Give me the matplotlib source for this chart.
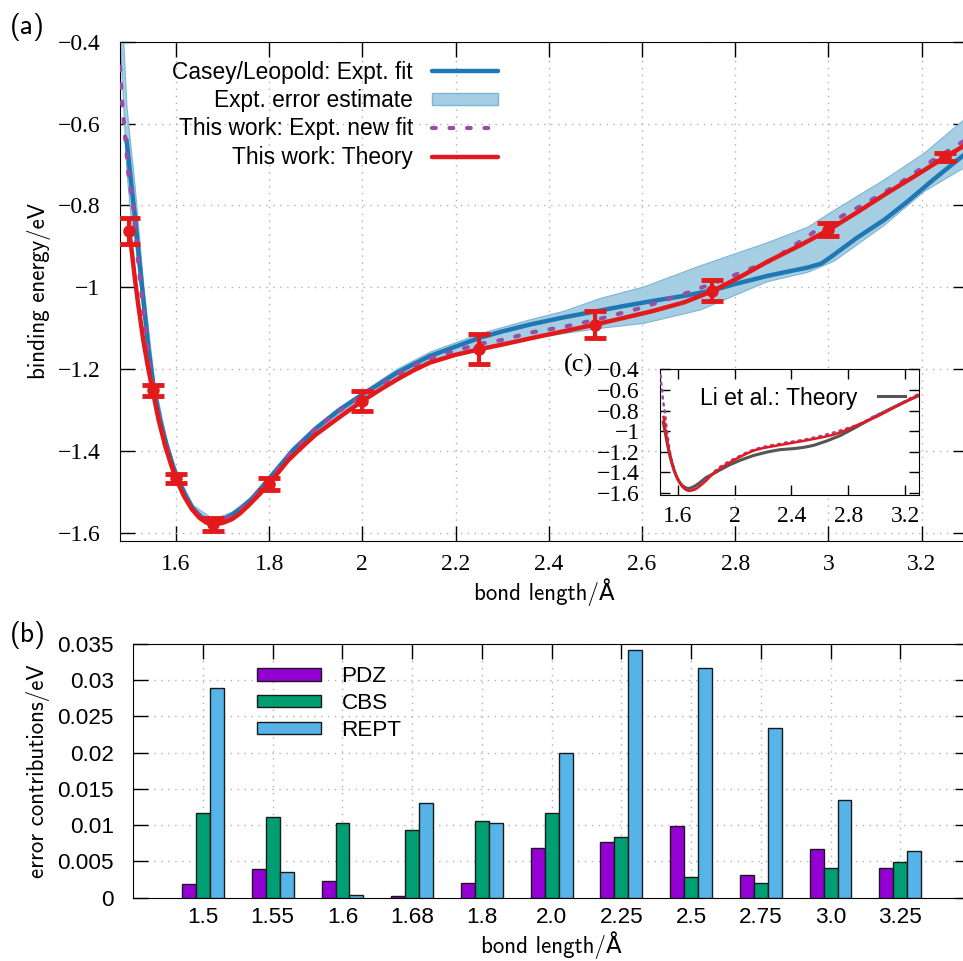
import numpy as np
import matplotlib
matplotlib.use("Agg")
import matplotlib.pyplot as plt
from matplotlib.lines import Line2D
from matplotlib.patches import Patch
from matplotlib.ticker import MultipleLocator, FuncFormatter

plt.rcParams['font.family'] = ['Liberation Sans', 'DejaVu Sans']

### data, panel (a)
r_pts = [1.5, 1.55, 1.6, 1.68, 1.8, 2.0, 2.25, 2.5, 2.75, 3.0, 3.25]
e_pts = [-0.863, -1.252, -1.467, -1.579, -1.48, -1.278, -1.15, -1.091, -1.008, -0.859, -0.682]
err_pts = [0.032, 0.013, 0.011, 0.016, 0.015, 0.024, 0.037, 0.034, 0.025, 0.016, 0.009]

theory_x = [1.50, 1.506, 1.512, 1.52, 1.53, 1.54, 1.55, 1.563, 1.577, 1.59, 1.60, 1.617, 1.634, 1.65,
            1.665, 1.68, 1.70, 1.72, 1.737, 1.755, 1.78, 1.80, 1.84, 1.87, 1.90, 1.93, 1.955, 2.0,
            2.04, 2.075, 2.11, 2.145, 2.2, 2.25, 2.30, 2.36, 2.43, 2.5, 2.56, 2.62, 2.69, 2.75,
            2.81, 2.87, 2.94, 3.0, 3.06, 3.12, 3.19, 3.25, 3.30]
theory_y = [-0.863, -0.92, -0.98, -1.05, -1.13, -1.195, -1.252, -1.325, -1.388, -1.435, -1.467,
            -1.51, -1.542, -1.563, -1.575, -1.579, -1.576, -1.567, -1.553, -1.534, -1.505, -1.48,
            -1.424, -1.391, -1.36, -1.335, -1.314, -1.278, -1.249, -1.225, -1.203, -1.184, -1.165,
            -1.152, -1.14, -1.125, -1.108, -1.091, -1.075, -1.059, -1.037, -1.01, -0.975, -0.937,
            -0.897, -0.86, -0.818, -0.774, -0.725, -0.682, -0.648]

casey_x = [1.494, 1.503, 1.512, 1.521, 1.53, 1.541, 1.553, 1.566, 1.58, 1.593, 1.603, 1.62, 1.636,
           1.655, 1.68, 1.70, 1.72, 1.74, 1.76, 1.78, 1.80, 1.85, 1.90, 1.95, 2.0, 2.037, 2.074,
           2.11, 2.145, 2.2, 2.253, 2.30, 2.36, 2.43, 2.50, 2.56, 2.62, 2.69, 2.75, 2.80, 2.87,
           2.92, 2.955, 2.985, 3.01, 3.06, 3.12, 3.17, 3.225, 3.30]
casey_y = [-0.64, -0.735, -0.827, -0.93, -1.03, -1.15, -1.25, -1.325, -1.385, -1.435, -1.465,
           -1.508, -1.54, -1.562, -1.573, -1.568, -1.556, -1.54, -1.52, -1.495, -1.468, -1.40,
           -1.345, -1.30, -1.262, -1.236, -1.209, -1.188, -1.168, -1.145, -1.123, -1.108, -1.091,
           -1.074, -1.059, -1.046, -1.034, -1.021, -1.008, -0.992, -0.972, -0.96, -0.952, -0.942,
           -0.922, -0.88, -0.835, -0.79, -0.737, -0.668]

band_x = [1.48, 1.487, 1.494, 1.503, 1.512, 1.521, 1.53, 1.553, 1.58, 1.603, 1.636, 1.68, 1.72,
          1.76, 1.80, 1.85, 1.90, 1.95, 2.0, 2.074, 2.145, 2.253, 2.36, 2.43, 2.51, 2.603, 2.725,
          2.868, 2.955, 3.011, 3.118, 3.204, 3.30]
band_lo = [-0.40, -0.56, -0.72, -0.83, -0.89, -0.98, -1.065, -1.27, -1.395, -1.472, -1.548,
           -1.582, -1.565, -1.529, -1.475, -1.407, -1.352, -1.307, -1.27, -1.217, -1.178, -1.145,
           -1.125, -1.112, -1.099, -1.087, -1.054, -0.985, -0.962, -0.935, -0.848, -0.765, -0.70]
band_hi = [-0.30, -0.40, -0.56, -0.66, -0.76, -0.88, -0.995, -1.23, -1.375, -1.458, -1.532,
           -1.566, -1.548, -1.512, -1.458, -1.39, -1.338, -1.293, -1.255, -1.199, -1.157, -1.112,
           -1.078, -1.058, -1.026, -0.998, -0.946, -0.89, -0.852, -0.811, -0.737, -0.672, -0.58]

newfit_x = [1.48, 1.484, 1.491, 1.498, 1.509, 1.52, 1.53, 1.54, 1.55, 1.565, 1.58, 1.59, 1.60,
            1.617, 1.634, 1.655, 1.68, 1.70, 1.72, 1.74, 1.76, 1.78, 1.80, 1.85, 1.90, 1.95, 2.0,
            2.037, 2.074, 2.11, 2.145, 2.2, 2.253, 2.303, 2.36, 2.431, 2.503, 2.596, 2.696, 2.775,
            2.882, 2.982, 3.075, 3.154, 3.225, 3.30]
newfit_y = [-0.461, -0.542, -0.632, -0.721, -0.81, -0.95, -1.06, -1.16, -1.245, -1.325, -1.385,
            -1.43, -1.462, -1.508, -1.54, -1.562, -1.574, -1.569, -1.558, -1.542, -1.523, -1.498,
            -1.47, -1.40, -1.345, -1.302, -1.266, -1.24, -1.214, -1.193, -1.174, -1.155, -1.138,
            -1.128, -1.111, -1.097, -1.079, -1.051, -1.014, -0.981, -0.932, -0.855, -0.798,
            -0.745, -0.689, -0.636]

# panel (c): Li et al.
li_x = [1.498, 1.51, 1.522, 1.534, 1.546, 1.56, 1.575, 1.59, 1.604, 1.62, 1.64, 1.66, 1.675, 1.69,
        1.71, 1.73, 1.745, 1.77, 1.80, 1.851, 1.90, 1.96, 2.039, 2.13, 2.228, 2.32, 2.415, 2.49,
        2.557, 2.65, 2.745, 2.86, 2.98, 3.08, 3.168, 3.24, 3.297]
li_y = [-0.913, -1.0, -1.09, -1.175, -1.251, -1.32, -1.385, -1.438, -1.476, -1.51, -1.537,
        -1.552, -1.557, -1.553, -1.54, -1.525, -1.511, -1.483, -1.45, -1.412, -1.375, -1.33,
        -1.283, -1.238, -1.203, -1.18, -1.17, -1.157, -1.138, -1.095, -1.042, -0.958, -0.865,
        -0.795, -0.735, -0.69, -0.655]

### data, panel (b)
bond_labels = ['1.5', '1.55', '1.6', '1.68', '1.8', '2.0', '2.25', '2.5', '2.75', '3.0', '3.25']
pdz = [0.00185, 0.0039, 0.00227, 0.0003, 0.00207, 0.0069, 0.00765, 0.00986, 0.00318, 0.00669, 0.00406]
cbs = [0.01166, 0.0111, 0.01028, 0.00935, 0.01059, 0.01166, 0.00843, 0.00286, 0.00207, 0.00406, 0.00493]
rept = [0.02887, 0.00355, 0.00033, 0.01312, 0.01036, 0.01998, 0.03421, 0.03168, 0.0234, 0.01354, 0.00649]

c_blue = '#1f78b4'
c_band = '#a6cee3'
c_purple = '#984ea3'
c_red = '#e31a1c'
c_gray = '#555555'
grid_kw = dict(color='#b0b0b0', linestyle=(0, (1, 4)), linewidth=1.0)
lab_font = ['cmss10', 'DejaVu Sans']

def minus_fmt(v, pos):
    return ('%g' % round(v, 6)).replace('-', '\u2212')

W, H = 963, 961
fig = plt.figure(figsize=(W/100, H/100), dpi=100, facecolor='white')

### panel (a)
ax = fig.add_axes([120/W, 1-541/H, 848.3/W, 499.3/H])
ax.fill_between(band_x, band_lo, band_hi, facecolor=c_band, edgecolor='#7fb3d5', linewidth=0.8, zorder=2)
ax.plot(casey_x, casey_y, color=c_blue, lw=3.2, zorder=3, solid_capstyle='round')
ax.plot(newfit_x, newfit_y, color=c_purple, lw=3.0, linestyle=(0, (0.9, 3.3)),
        dash_capstyle='round', zorder=4)
ax.plot(theory_x, theory_y, color=c_red, lw=3.2, zorder=5)
ax.errorbar(r_pts, e_pts, yerr=err_pts, fmt='o', color=c_red, ms=8, elinewidth=3,
            capsize=8, capthick=3.5, zorder=6)

ax.set_xlim(1.48, 3.3)
ax.set_ylim(-1.62, -0.4)
ax.xaxis.set_major_locator(MultipleLocator(0.2))
ax.yaxis.set_major_locator(MultipleLocator(0.2))
ax.xaxis.set_major_formatter(FuncFormatter(minus_fmt))
ax.yaxis.set_major_formatter(FuncFormatter(minus_fmt))
ax.tick_params(direction='in', length=11, width=1, top=True, right=True, labelsize=17)
ax.tick_params(axis='y', pad=14)
ax.tick_params(axis='x', pad=9)
for lbl in ax.get_xticklabels() + ax.get_yticklabels():
    lbl.set_family('Liberation Serif')
ax.grid(True, **grid_kw)
ax.set_axisbelow(True)
ax.set_xlabel('bond length/Å', fontsize=16.5, family=lab_font, labelpad=3)
ax.set_ylabel('binding energy/eV', fontsize=16.5, family=lab_font, labelpad=5)

handles = [Line2D([], [], color=c_blue, lw=3.2, solid_capstyle='round'),
           Patch(facecolor=c_band, edgecolor='#7fb3d5', linewidth=1),
           Line2D([], [], color=c_purple, lw=3.0, linestyle=(0, (0.9, 3.3)), dash_capstyle='round'),
           Line2D([], [], color=c_red, lw=3.2, solid_capstyle='round')]
names = ['Casey/Leopold: Expt. fit', 'Expt. error estimate',
         'This work: Expt. new fit', 'This work: Theory']
ax.legend(handles, names, loc='upper right', bbox_to_anchor=((498-120)/848.3, (541-60.5)/499.3),
          frameon=False, markerfirst=False, alignment='right', fontsize=16.4,
          handlelength=2.9, handleheight=0.45, handletextpad=0.83, labelspacing=0.24, borderpad=0,
          borderaxespad=0)

fig.text(10/W, 1-27/H, '(a)', fontsize=20, family=lab_font, va='center', ha='left')

### panel (c) inset
axi = fig.add_axes([660/W, 1-495/H, 259.3/W, 125.7/H])
axi.plot(li_x, li_y, color=c_gray, lw=2.2, zorder=3)
axi.plot(newfit_x, newfit_y, color=c_purple, lw=1.8, linestyle=(0, (0.8, 2.0)),
         dash_capstyle='round', zorder=4)
axi.plot(theory_x, theory_y, color=c_red, lw=1.8, zorder=5)
axi.set_xlim(1.475, 3.3)
axi.set_ylim(-1.62, -0.4)
axi.xaxis.set_major_locator(MultipleLocator(0.4))
axi.yaxis.set_major_locator(MultipleLocator(0.2))
axi.xaxis.set_major_formatter(FuncFormatter(minus_fmt))
axi.yaxis.set_major_formatter(FuncFormatter(minus_fmt))
axi.tick_params(direction='in', length=7, width=1, top=True, right=True, labelsize=17)
axi.tick_params(axis='y', pad=14.4)
axi.tick_params(axis='x', pad=8)
for lbl in axi.get_xticklabels() + axi.get_yticklabels():
    lbl.set_family('Liberation Serif')
axi.legend([Line2D([], [], color=c_gray, lw=2.2)], ['Li et al.: Theory'], loc='center right',
           bbox_to_anchor=((905-660)/259.3, (495-398)/125.7), frameon=False, markerfirst=False,
           fontsize=16.5, handlelength=1.18, handletextpad=0.92, borderpad=0, borderaxespad=0)
fig.text(564/W, 1-365/H, '(c)', fontsize=19, family='Liberation Serif', va='center', ha='left')

### panel (b)
axb = fig.add_axes([133.3/W, 1-897.7/H, 836.7/W, 253.7/H])
idx = np.arange(len(bond_labels))
bw = 0.2
axb.bar(idx - bw, pdz, bw, color='#9400d3', edgecolor='#1a1a1a', linewidth=1, label='PDZ', zorder=3)
axb.bar(idx, cbs, bw, color='#009e73', edgecolor='#1a1a1a', linewidth=1, label='CBS', zorder=3)
axb.bar(idx + bw, rept, bw, color='#56b4e9', edgecolor='#1a1a1a', linewidth=1, label='REPT', zorder=3)
axb.set_xlim(-1, 11)
axb.set_ylim(0, 0.035)
axb.set_xticks(idx)
axb.set_xticklabels(bond_labels)
axb.yaxis.set_major_locator(MultipleLocator(0.005))
axb.yaxis.set_major_formatter(FuncFormatter(minus_fmt))
axb.tick_params(direction='in', length=11, width=1, top=True, right=True, labelsize=16.2)
axb.tick_params(axis='y', pad=14)
axb.tick_params(axis='x', pad=7)
axb.grid(True, **grid_kw)
axb.set_axisbelow(True)
axb.set_xlabel('bond length/Å', fontsize=16.5, family=lab_font, labelpad=2)
axb.set_ylabel('error contributions/eV', fontsize=16.5, family=lab_font, labelpad=5)
axb.legend(loc='upper left', bbox_to_anchor=((257.3-133.3)/836.7, (897.7-666.5)/253.7),
           frameon=False, fontsize=16.2, handlelength=2.84, handleheight=0.45, handletextpad=0.9,
           labelspacing=0.26, borderpad=0, borderaxespad=0)
fig.text(10/W, 1-635/H, '(b)', fontsize=20, family=lab_font, va='center', ha='left')

fig.savefig('out.png', dpi=100, facecolor='white')
